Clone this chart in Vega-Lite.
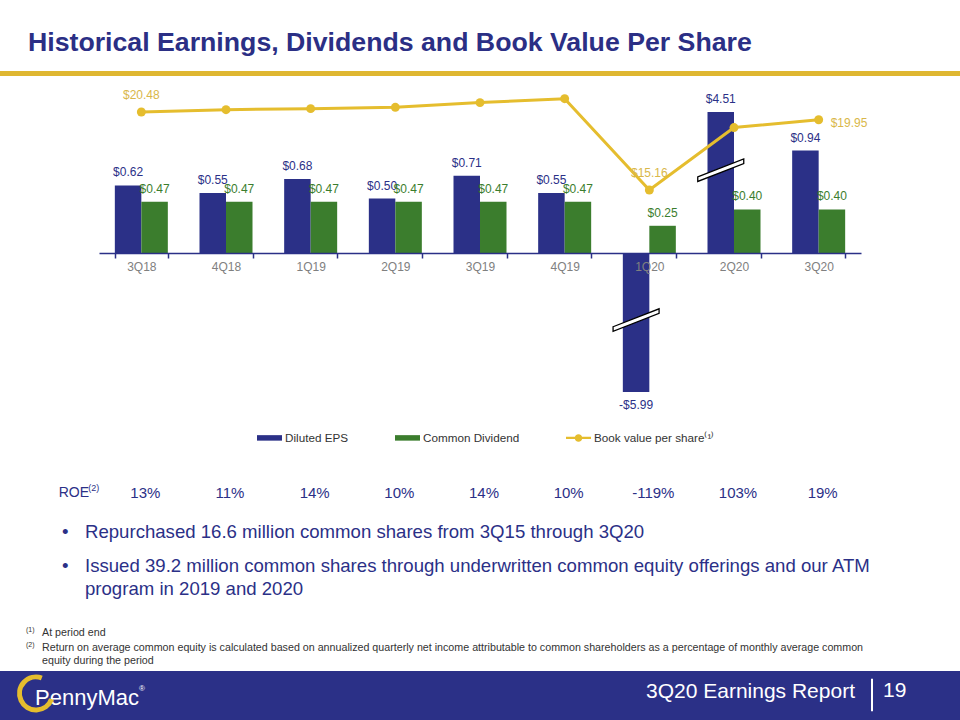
{
  "$schema": "https://vega.github.io/schema/vega-lite/v6.json",
  "padding": 0,
  "spacing": 0,
  "bounds": "flush",
  "background": "white",
  "config": {
    "view": {"stroke": null},
    "font": "Liberation Sans",
    "locale": {"number": {"decimal": ".", "thousands": ",", "grouping": [3], "currency": ["$", ""], "minus": "-"}}
  },
  "datasets": {
    "bars": [
      {"q": "3Q18", "series": "Diluted EPS", "value": 0.62},
      {"q": "3Q18", "series": "Common Dividend", "value": 0.47},
      {"q": "4Q18", "series": "Diluted EPS", "value": 0.55},
      {"q": "4Q18", "series": "Common Dividend", "value": 0.47},
      {"q": "1Q19", "series": "Diluted EPS", "value": 0.68},
      {"q": "1Q19", "series": "Common Dividend", "value": 0.47},
      {"q": "2Q19", "series": "Diluted EPS", "value": 0.50},
      {"q": "2Q19", "series": "Common Dividend", "value": 0.47},
      {"q": "3Q19", "series": "Diluted EPS", "value": 0.71},
      {"q": "3Q19", "series": "Common Dividend", "value": 0.47},
      {"q": "4Q19", "series": "Diluted EPS", "value": 0.55},
      {"q": "4Q19", "series": "Common Dividend", "value": 0.47},
      {"q": "1Q20", "series": "Diluted EPS", "value": -5.99},
      {"q": "1Q20", "series": "Common Dividend", "value": 0.25},
      {"q": "2Q20", "series": "Diluted EPS", "value": 4.51},
      {"q": "2Q20", "series": "Common Dividend", "value": 0.40},
      {"q": "3Q20", "series": "Diluted EPS", "value": 0.94},
      {"q": "3Q20", "series": "Common Dividend", "value": 0.40}
    ],
    "quarters": [
      {"q": "3Q18", "bv": 20.48, "roe": 0.13},
      {"q": "4Q18", "bv": 20.64, "roe": 0.11},
      {"q": "1Q19", "bv": 20.71, "roe": 0.14},
      {"q": "2Q19", "bv": 20.80, "roe": 0.10},
      {"q": "3Q19", "bv": 21.12, "roe": 0.14},
      {"q": "4Q19", "bv": 21.39, "roe": 0.10},
      {"q": "1Q20", "bv": 15.16, "roe": -1.19},
      {"q": "2Q20", "bv": 19.42, "roe": 1.03},
      {"q": "3Q20", "bv": 19.95, "roe": 0.19}
    ],
    "bullets": [
      {"n": 1, "text": "Repurchased 16.6 million common shares from 3Q15 through 3Q20"},
      {"n": 2, "text": "Issued 39.2 million common shares through underwritten common equity offerings and our ATM\nprogram in 2019 and 2020"}
    ],
    "notes": [
      {"n": 1, "mark": "(1)", "text": "At period end"},
      {"n": 2, "mark": "(2)", "text": "Return on average common equity is calculated based on annualized quarterly net income attributable to common shareholders as a percentage of monthly average common\nequity during the period"}
    ]
  },
  "vconcat": [
    {
      "width": 960,
      "height": 71,
      "data": {"values": [{"text": "Historical Earnings, Dividends and Book Value Per Share"}]},
      "mark": {"type": "text", "align": "left", "baseline": "middle", "dx": 28, "dy": 7, "fontWeight": "bold", "fontSize": 26.7, "color": "#2b2f85"},
      "encoding": {
        "x": {"datum": 0, "scale": {"domain": [0, 1]}, "axis": null},
        "text": {"field": "text"}
      }
    },
    {
      "width": 960,
      "height": 5,
      "view": {"fill": "#dfb731"},
      "data": {"values": [{}]},
      "mark": {"type": "text", "text": ""},
      "encoding": {}
    },
    {
      "width": 960,
      "height": 381,
      "resolve": {"scale": {"y": "independent"}},
      "layer": [
        {
          "data": {"name": "bars"},
          "encoding": {
            "x": {
              "field": "q", "type": "nominal", "sort": null,
              "scale": {"domain": ["3Q18","4Q18","1Q19","2Q19","3Q19","4Q19","1Q20","2Q20","3Q20"], "range": [99, 861], "paddingInner": 0.374, "paddingOuter": 0.187},
              "axis": {"orient": "bottom", "offset": -204, "title": null, "tickBand": "extent", "domainColor": "#2b3087", "domainWidth": 1.5, "tickColor": "#2b3087", "tickWidth": 1.5, "tickSize": 5, "labelColor": "#808080", "labelFontSize": 12, "labelPadding": 3, "labelAngle": 0, "grid": false, "zindex": 1}
            },
            "xOffset": {"field": "series", "type": "nominal", "scale": {"domain": ["Diluted EPS", "Common Dividend"], "paddingInner": 0, "paddingOuter": 0}},
            "y": {"field": "value", "type": "quantitative", "scale": {"domain": [-1.275, 1.294], "range": [316, 36], "clamp": true, "nice": false, "zero": false}, "axis": null}
          },
          "layer": [
            {
              "mark": {"type": "bar"},
              "encoding": {
                "color": {
                  "field": "series", "type": "nominal",
                  "scale": {"domain": ["Diluted EPS", "Common Dividend", "Book value per share⁽¹⁾"], "range": ["#2b3087", "#3b7d2d", "#e5bd2e"]},
                  "legend": {
                    "orient": "none", "legendX": 257, "legendY": 425, "direction": "horizontal", "title": null,
                    "padding": 0, "columnPadding": 46, "labelOffset": 3, "labelFontSize": 11.7, "labelColor": "#333333",
                    "symbolSize": 625, "symbolType": "M-1,-0.22L1,-0.22L1,0.22L-1,0.22Z", "symbolStrokeWidth": 0,
                    "encode": {
                      "symbols": {
                        "update": {
                          "shape": {"signal": "indexof(datum.value, 'Book') === 0 ? 'M-1,-0.09L1,-0.09L1,0.09L-1,0.09Z M-0.3,0A0.3,0.3 0 1,1 0.3,0A0.3,0.3 0 1,1 -0.3,0Z' : 'M-1,-0.22L1,-0.22L1,0.22L-1,0.22Z'"},
                          "fill": {"signal": "scale('color', datum.value)"},
                          "stroke": {"value": "transparent"},
                          "opacity": {"value": 1}
                        }
                      }
                    }
                  }
                }
              }
            },
            {
              "transform": [{"filter": "datum.value >= 0"}],
              "mark": {"type": "text", "baseline": "middle", "dy": -13, "fontSize": 12},
              "encoding": {
                "text": {"field": "value", "type": "quantitative", "format": "$.2f"},
                "color": {"field": "series", "type": "nominal"}
              }
            },
            {
              "transform": [{"filter": "datum.value < 0"}],
              "mark": {"type": "text", "baseline": "middle", "dy": 13, "fontSize": 12},
              "encoding": {
                "text": {"field": "value", "type": "quantitative", "format": "$.2f"},
                "color": {"field": "series", "type": "nominal"}
              }
            },
            {
              "transform": [{"filter": "datum.q === '2Q20' && datum.series === 'Diluted EPS'"}],
              "mark": {"type": "point", "shape": "M-1,0.29L1,-0.49L1,-0.29L-1,0.49Z", "size": 2116, "filled": true, "fill": "white", "stroke": "black", "strokeWidth": 1.3, "opacity": 1},
              "encoding": {"y": {"datum": 0.76}}
            },
            {
              "transform": [{"filter": "datum.q === '1Q20' && datum.series === 'Diluted EPS'"}],
              "mark": {"type": "point", "shape": "M-1,0.29L1,-0.49L1,-0.29L-1,0.49Z", "size": 2116, "filled": true, "fill": "white", "stroke": "black", "strokeWidth": 1.3, "opacity": 1},
              "encoding": {"y": {"datum": -0.615}}
            }
          ]
        },
        {
          "data": {"name": "quarters"},
          "encoding": {
            "x": {"field": "q", "type": "nominal", "sort": null},
            "y": {"field": "bv", "type": "quantitative", "scale": {"domain": [1.38, 20.48], "range": [316, 36], "nice": false, "zero": false}, "axis": null}
          },
          "layer": [
            {
              "mark": {"type": "line", "strokeWidth": 3, "point": {"filled": true, "size": 80}},
              "encoding": {"color": {"datum": "Book value per share⁽¹⁾"}}
            },
            {
              "transform": [{"filter": "datum.q === '3Q18' || datum.q === '1Q20'"}],
              "mark": {"type": "text", "baseline": "middle", "dy": -17, "fontSize": 12, "color": "#d9b74a"},
              "encoding": {"text": {"field": "bv", "type": "quantitative", "format": "$.2f"}}
            },
            {
              "transform": [{"filter": "datum.q === '3Q20'"}],
              "mark": {"type": "text", "baseline": "middle", "align": "left", "dx": 12, "dy": 3, "fontSize": 12, "color": "#d9b74a"},
              "encoding": {"text": {"field": "bv", "type": "quantitative", "format": "$.2f"}}
            }
          ]
        }
      ]
    },
    {
      "width": 960,
      "height": 60,
      "layer": [
        {
          "data": {"name": "quarters"},
          "mark": {"type": "text", "fontSize": 15, "color": "#2b3087", "dx": 4, "dy": 6},
          "encoding": {
            "x": {"field": "q", "type": "nominal", "sort": null, "scale": {"domain": ["3Q18","4Q18","1Q19","2Q19","3Q19","4Q19","1Q20","2Q20","3Q20"], "range": [99, 861], "paddingInner": 0.374, "paddingOuter": 0.187}, "axis": null},
            "text": {"field": "roe", "type": "quantitative", "format": ".0%"}
          }
        },
        {
          "data": {"values": [{"label": "ROE"}]},
          "mark": {"type": "text", "align": "left", "fontSize": 14, "color": "#2b3087", "dx": -82.6, "dy": 6},
          "encoding": {"x": {"datum": "3Q18"}, "text": {"field": "label"}}
        },
        {
          "data": {"values": [{"label": "(2)"}]},
          "mark": {"type": "text", "align": "left", "fontSize": 9, "color": "#2b3087", "dx": -53, "dy": 1},
          "encoding": {"x": {"datum": "3Q18"}, "text": {"field": "label"}}
        }
      ]
    },
    {
      "width": 960,
      "height": 94,
      "data": {"name": "bullets"},
      "encoding": {
        "x": {"datum": 0, "scale": {"domain": [0, 1]}, "axis": null},
        "y": {"field": "n", "type": "ordinal", "scale": {"type": "point", "range": [6, 40], "padding": 0}, "axis": null}
      },
      "layer": [
        {"mark": {"type": "text", "text": "•", "align": "left", "baseline": "top", "dx": 62, "fontSize": 18.6, "color": "#2b3087"}},
        {
          "mark": {"type": "text", "align": "left", "baseline": "top", "dx": 85, "fontSize": 18.6, "lineHeight": 23, "lineBreak": "\n", "color": "#2b3087"},
          "encoding": {"text": {"field": "text"}}
        }
      ]
    },
    {
      "width": 960,
      "height": 60,
      "data": {"name": "notes"},
      "encoding": {
        "x": {"datum": 0, "scale": {"domain": [0, 1]}, "axis": null},
        "y": {"field": "n", "type": "ordinal", "scale": {"type": "point", "range": [17, 32], "padding": 0}, "axis": null}
      },
      "layer": [
        {
          "mark": {"type": "text", "align": "left", "baseline": "top", "dx": 26, "dy": -2, "fontSize": 7, "color": "#333333"},
          "encoding": {"text": {"field": "mark"}}
        },
        {
          "mark": {"type": "text", "align": "left", "baseline": "top", "dx": 42, "fontSize": 10.7, "lineHeight": 13, "lineBreak": "\n", "color": "#333333"},
          "encoding": {"text": {"field": "text"}}
        }
      ]
    },
    {
      "width": 960,
      "height": 49,
      "view": {"fill": "#2b3087"},
      "data": {"values": [{}]},
      "layer": [
        {
          "mark": {"type": "text", "text": "3Q20 Earnings Report", "align": "right", "baseline": "middle", "dx": -105, "dy": -3.5, "fontSize": 21, "color": "white"},
          "encoding": {"x": {"datum": 1, "scale": {"domain": [0, 1]}, "axis": null}}
        },
        {
          "mark": {"type": "text", "text": "19", "align": "left", "baseline": "middle", "dx": -77, "dy": -5, "fontSize": 21, "color": "white"},
          "encoding": {"x": {"datum": 1}}
        },
        {
          "mark": {"type": "rule", "xOffset": -88, "color": "white", "strokeWidth": 2},
          "encoding": {"x": {"datum": 1}, "y": {"datum": 0.18, "scale": {"domain": [0, 1]}, "axis": null}, "y2": {"datum": 0.84}}
        },
        {
          "mark": {"type": "text", "text": "PennyMac", "align": "left", "baseline": "middle", "dx": 35, "dy": 2, "fontSize": 22, "color": "white"},
          "encoding": {"x": {"datum": 0}}
        },
        {
          "mark": {"type": "text", "text": "®", "align": "left", "baseline": "middle", "dx": 139, "dy": -7, "fontSize": 8, "color": "white"},
          "encoding": {"x": {"datum": 0}}
        },
        {
          "mark": {"type": "point", "shape": "M0.35,-0.94A1,1 0 1,0 0.94,0.34", "size": 1089, "filled": false, "stroke": "#e5bd2e", "strokeWidth": 5, "opacity": 1, "xOffset": 36, "yOffset": -2},
          "encoding": {"x": {"datum": 0}}
        }
      ]
    }
  ]
}
